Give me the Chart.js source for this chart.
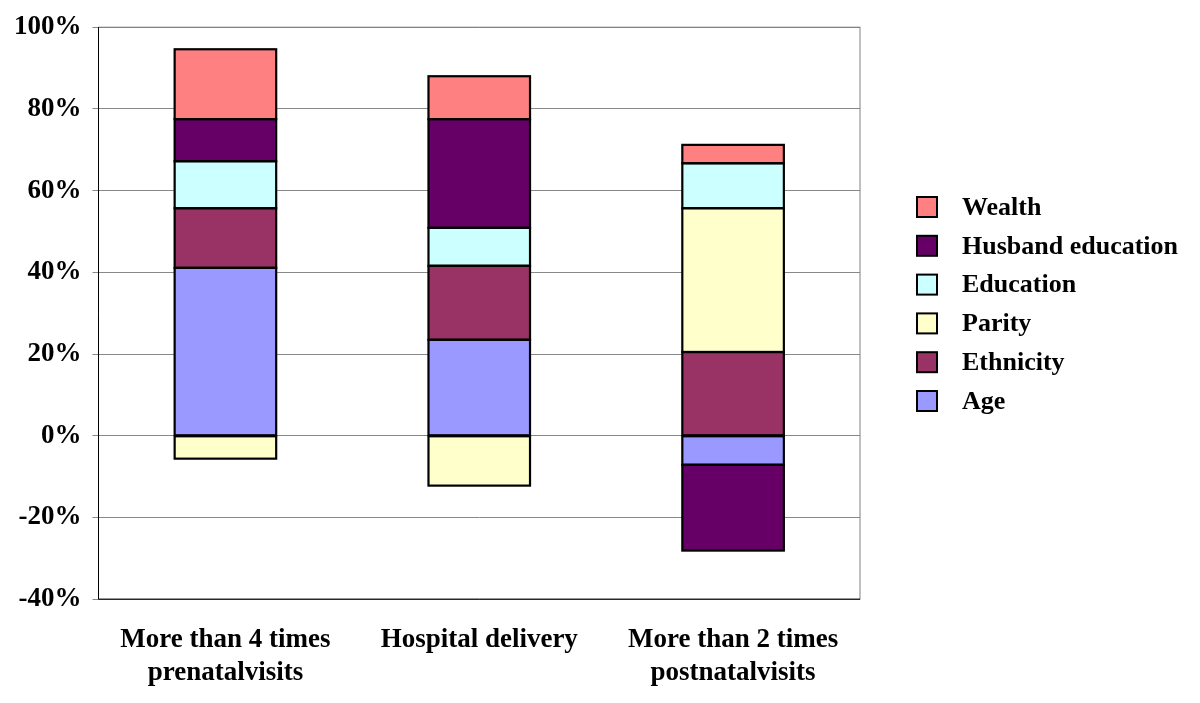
<!DOCTYPE html>
<html>
<head>
<meta charset="utf-8">
<script src="https://cdn.jsdelivr.net/npm/chart.js@4.4.0/dist/chart.umd.min.js"></script>
<style>
  html, body { margin: 0; padding: 0; background: #fff; }
  #wrap { width: 1200px; height: 703px; }
</style>
</head>
<body>
<div id="wrap"><canvas id="chart" width="1200" height="703"></canvas></div>
<script>
const categories = [
  ["More than 4 times", "prenatalvisits"],
  ["Hospital delivery"],
  ["More than 2 times", "postnatalvisits"]
];

// contribution of each factor (%)
const age = [41.1, 23.5, -7.1];
const ethnicity = [14.6, 18.1, 20.5];
const parity = [-5.6, -12.2, 35.2];
const education = [11.5, 9.3, 11.0];
const husbandEducation = [10.3, 26.6, -21.0];
const wealth = [17.1, 10.5, 4.5];

const yTicks = [-40, -20, 0, 20, 40, 60, 80, 100];

const serif = "'Liberation Serif', 'Times New Roman', serif";

function ds(label, data, color) {
  return {
    label: label,
    data: data,
    backgroundColor: color,
    borderWidth: 0,
    inflateAmount: 0,
    barPercentage: 0.4,
    categoryPercentage: 1.0
  };
}

// black outline on every bar segment, taken from the bar elements
const outlinePlugin = {
  id: "outline",
  afterDatasetsDraw(chart) {
    const ctx = chart.ctx;
    ctx.save();
    ctx.strokeStyle = "#000";
    ctx.lineWidth = 2.2;
    chart.data.datasets.forEach((d, i) => {
      chart.getDatasetMeta(i).data.forEach(bar => {
        const p = bar.getProps(["x", "y", "base", "width"], true);
        const top = Math.min(p.y, p.base);
        const h = Math.abs(p.base - p.y);
        ctx.strokeRect(p.x - p.width / 2, top, p.width, h);
      });
    });
    ctx.restore();
  }
};

// frame round the plot area + legend drawn on the right
const framePlugin = {
  id: "frame",
  afterDraw(chart) {
    const { ctx, chartArea: a } = chart;
    ctx.save();
    ctx.strokeStyle = "#808080";
    ctx.lineWidth = 1;
    ctx.strokeRect(a.left, a.top, a.right - a.left, a.bottom - a.top);
    ctx.strokeStyle = "#000";
    ctx.beginPath();
    ctx.moveTo(a.left, a.top);
    ctx.lineTo(a.left, a.bottom);
    ctx.lineTo(a.right, a.bottom);
    ctx.stroke();

    // legend, reversed order
    const items = chart.data.datasets.slice().reverse();
    ctx.font = "bold 26px " + serif;
    ctx.textBaseline = "middle";
    items.forEach((d, i) => {
      const y = 207 + i * 38.8;
      ctx.fillStyle = d.backgroundColor;
      ctx.fillRect(917, y - 10, 20, 20);
      ctx.strokeStyle = "#000";
      ctx.lineWidth = 2;
      ctx.strokeRect(917, y - 10, 20, 20);
      ctx.fillStyle = "#000";
      ctx.fillText(d.label, 962, y + 1);
    });
    ctx.restore();
  }
};

new Chart(document.getElementById("chart"), {
  type: "bar",
  data: {
    labels: categories,
    datasets: [
      ds("Age", age, "#9999FF"),
      ds("Ethnicity", ethnicity, "#993366"),
      ds("Parity", parity, "#FFFFCC"),
      ds("Education", education, "#CCFFFF"),
      ds("Husband education", husbandEducation, "#660066"),
      ds("Wealth", wealth, "#FF8080")
    ]
  },
  options: {
    responsive: false,
    animation: false,
    layout: { padding: { left: 3, right: 340, top: 9, bottom: -3 } },
    plugins: {
      legend: { display: false },
      tooltip: { enabled: false }
    },
    scales: {
      x: {
        stacked: true,
        grid: { display: false },
        border: { display: false },
        ticks: {
          color: "#000",
          font: { family: serif, size: 27, weight: "bold" },
          padding: 17,
          maxRotation: 0
        }
      },
      y: {
        stacked: true,
        min: -40,
        max: 100,
        afterBuildTicks(axis) {
          axis.ticks = yTicks.map(v => ({ value: v }));
        },
        grid: { color: "#888", lineWidth: 1, tickLength: 6, drawTicks: true },
        border: { display: false },
        ticks: {
          color: "#000",
          font: { family: serif, size: 27, weight: "bold" },
          padding: 11,
          callback: v => v + "%"
        }
      }
    }
  },
  plugins: [outlinePlugin, framePlugin]
});
</script>
</body>
</html>
